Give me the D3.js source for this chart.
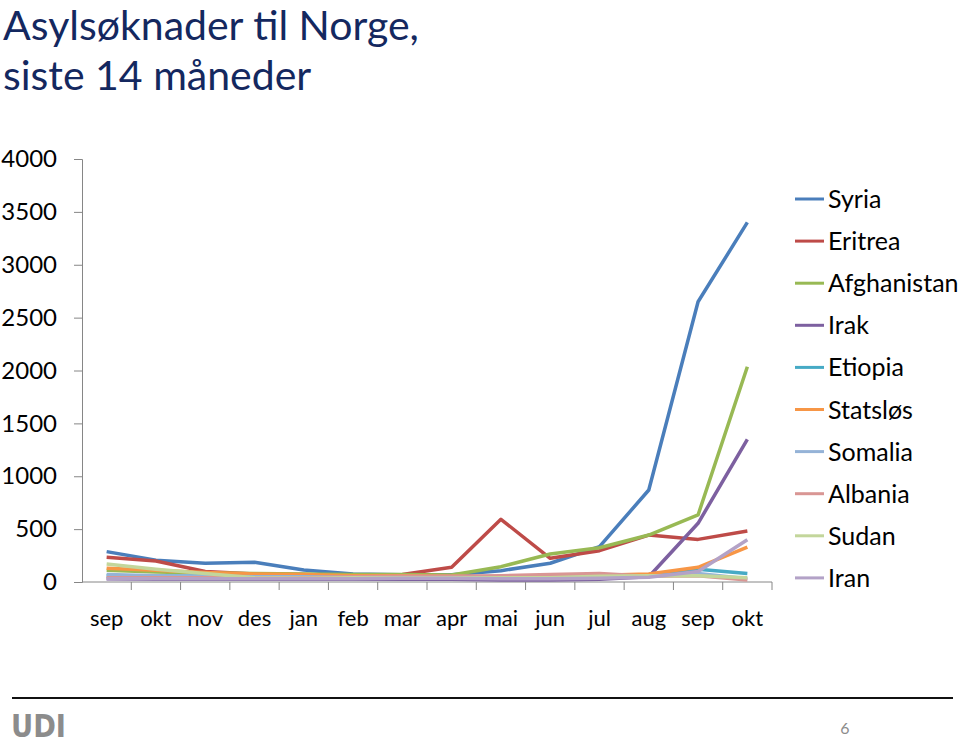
<!DOCTYPE html>
<html>
<head>
<meta charset="utf-8">
<script src="https://cdn.jsdelivr.net/npm/d3@7"></script>
<style>
  body { margin: 0; background: #fff; }
  svg { display: block; font-family: Lato, "Open Sans", sans-serif; }
</style>
</head>
<body>
<div class="canvas"></div>
<script>
// data
const months = ['sep', 'okt', 'nov', 'des', 'jan', 'feb', 'mar', 'apr', 'mai', 'jun', 'jul', 'aug', 'sep', 'okt'];
const seriesNames = ['Syria', 'Eritrea', 'Afghanistan', 'Irak', 'Etiopia', 'Statsløs', 'Somalia', 'Albania', 'Sudan', 'Iran'];
const syria = [287, 205, 177, 186, 113, 75, 68, 68, 107, 177, 334, 870, 2650, 3400];
const eritrea = [233, 199, 100, 75, 70, 60, 70, 140, 593, 224, 296, 444, 403, 482];
const afghanistan = [110, 95, 85, 80, 75, 70, 70, 66, 145, 265, 324, 444, 634, 2036];
const irak = [30, 25, 25, 25, 25, 25, 25, 25, 20, 20, 25, 50, 555, 1349];
const etiopia = [60, 60, 55, 50, 50, 50, 50, 50, 50, 50, 55, 70, 120, 80];
const statslos = [130, 110, 90, 75, 70, 60, 60, 55, 50, 60, 65, 75, 139, 330];
const somalia = [70, 60, 55, 50, 50, 45, 45, 45, 45, 45, 50, 55, 80, 30];
const albania = [40, 40, 40, 40, 40, 50, 55, 55, 60, 70, 80, 55, 60, 20];
const sudan = [170, 120, 80, 40, 35, 40, 40, 40, 40, 40, 55, 60, 60, 40];
const iran = [30, 30, 30, 30, 30, 30, 35, 35, 30, 30, 35, 45, 100, 400];
const yTicks = [0, 500, 1000, 1500, 2000, 2500, 3000, 3500, 4000];

const seriesValues = [syria, eritrea, afghanistan, irak, etiopia, statslos, somalia, albania, sudan, iran];
const colors = ['#4a7ebb', '#be4b48', '#98b954', '#7d60a0', '#46aac5', '#f79646', '#95b3d7', '#d99694', '#c3d69b', '#b3a2c7'];

const width = 959, height = 744;
const plot = { left: 82, right: 772, top: 159, bottom: 582 };

const svg = d3.select('.canvas')
    .append('svg')
    .attr('width', width)
    .attr('height', height);

// title
const title = svg.append('text')
    .attr('fill', '#14285f')
    .attr('font-size', 41);
title.append('tspan').attr('x', 3).attr('y', 40).text('Asylsøknader til Norge,');
title.append('tspan').attr('x', 3).attr('y', 90).text('siste 14 måneder');

// scales
const x = d3.scaleBand().domain(d3.range(months.length)).range([plot.left, plot.right]);
const y = d3.scaleLinear().domain([0, 4000]).range([plot.bottom, plot.top]);

// y axis
const yAxis = svg.append('g')
    .attr('transform', `translate(${plot.left},0)`)
    .call(d3.axisLeft(y).tickValues(yTicks).tickSize(8).tickPadding(17).tickFormat(d3.format('d')));
yAxis.select('.domain').attr('stroke', '#868686');
yAxis.selectAll('.tick line').attr('stroke', '#868686');
yAxis.selectAll('text').attr('font-size', 24).attr('fill', '#000')
    .attr('font-family', 'Lato, "Open Sans", sans-serif');

// x axis
const xAxisG = svg.append('g').attr('transform', `translate(0,${plot.bottom})`);
xAxisG.append('line')
    .attr('x1', plot.left).attr('x2', plot.right)
    .attr('stroke', '#868686');
xAxisG.selectAll('line.tk')
    .data(d3.range(1, months.length + 1))
    .join('line')
    .attr('class', 'tk')
    .attr('x1', d => plot.left + d * x.step())
    .attr('x2', d => plot.left + d * x.step())
    .attr('y1', 0).attr('y2', 8)
    .attr('stroke', '#868686');
xAxisG.selectAll('text')
    .data(months)
    .join('text')
    .attr('x', (d, i) => x(i) + x.bandwidth() / 2)
    .attr('y', 44)
    .attr('text-anchor', 'middle')
    .attr('font-size', 22)
    .text(d => d);

// lines
const line = d3.line()
    .x((d, i) => x(i) + x.bandwidth() / 2)
    .y(d => y(d));

svg.append('g').selectAll('path')
    .data(seriesValues)
    .join('path')
    .attr('fill', 'none')
    .attr('stroke', (d, i) => colors[i])
    .attr('stroke-width', 3.5)
    .attr('stroke-linejoin', 'round')
    .attr('d', line);

// legend
const legend = svg.append('g').attr('transform', 'translate(795,199)');
const items = legend.selectAll('g')
    .data(seriesNames)
    .join('g')
    .attr('transform', (d, i) => `translate(0,${i * 42.1})`);
items.append('line')
    .attr('x1', 0).attr('x2', 29)
    .attr('stroke', (d, i) => colors[i])
    .attr('stroke-width', 3);
items.append('text')
    .attr('x', 33)
    .attr('y', 9)
    .attr('font-size', 25)
    .text(d => d);

// footer
svg.append('line')
    .attr('x1', 12).attr('x2', 953)
    .attr('y1', 698).attr('y2', 698)
    .attr('stroke', '#111')
    .attr('stroke-width', 2);
svg.append('text')
    .attr('x', 11).attr('y', 737)
    .attr('font-size', 32)
    .attr('font-weight', 'bold')
    .attr('font-family', '"DejaVu Sans Condensed", "Liberation Sans Narrow", sans-serif')
    .attr('fill', '#8c8c8c')
    .attr('textLength', 55)
    .attr('lengthAdjust', 'spacingAndGlyphs')
    .text('UDI');
svg.append('text')
    .attr('x', 845).attr('y', 734)
    .attr('text-anchor', 'middle')
    .attr('font-size', 16)
    .attr('fill', '#8c8c8c')
    .text('6');
</script>
</body>
</html>
